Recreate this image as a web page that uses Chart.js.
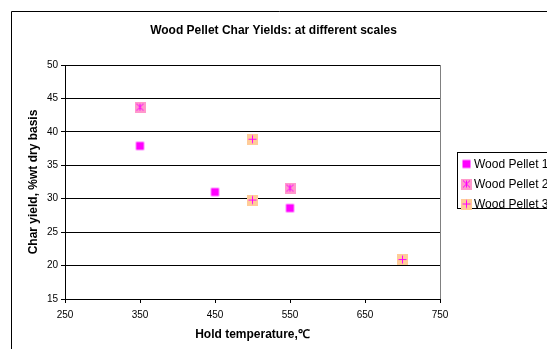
<!DOCTYPE html>
<html>
<head>
<meta charset="utf-8">
<script src="https://cdn.jsdelivr.net/npm/chart.js@4"></script>
<style>
  html, body { margin: 0; padding: 0; background: #fff; overflow: hidden; }
  #wrap { position: absolute; left: 0; top: 0; width: 547px; height: 349px; }
</style>
</head>
<body>
<div id="wrap"><canvas id="pelletChart" width="547" height="349"></canvas></div>
<script>
const chartTitle = 'Wood Pellet Char Yields: at different scales';
const xTitle = 'Hold temperature,\u2103';
const yTitle = 'Char yield, %wt dry basis';

const seriesNames = ['Wood Pellet 1', 'Wood Pellet 2', 'Wood Pellet 3'];

const pellet1Temps = [350, 450, 550];
const pellet1Yields = [37.9, 31.0, 28.6];

const pellet2Temps = [350, 550];
const pellet2Yields = [43.7, 31.6];

const pellet3Temps = [500, 500, 700];
const pellet3Yields = [38.9, 29.8, 20.9];

const xTicks = [250, 350, 450, 550, 650, 750];
const yTicks = [15, 20, 25, 30, 35, 40, 45, 50];

function toPoints(xs, ys) {
    return xs.map((x, i) => ({ x: x, y: ys[i] }));
}

// little bitmap markers like the excel ones
function makeMarker(kind) {
    const c = document.createElement('canvas');
    c.width = 11;
    c.height = 11;
    const g = c.getContext('2d');
    if (kind === 'square') {
        g.fillStyle = '#FF00FF';
        g.fillRect(1.5, 1.5, 8, 8);
        return c;
    }
    g.fillStyle = kind === 'star' ? '#FF99CC' : '#FFCC99';
    g.fillRect(0, 0, 11, 11);
    g.strokeStyle = '#FF00FF';
    g.lineWidth = 1;
    g.beginPath();
    if (kind === 'star') {
        g.moveTo(2, 2); g.lineTo(9, 9);
        g.moveTo(9, 2); g.lineTo(2, 9);
        g.moveTo(5.5, 2); g.lineTo(5.5, 9);
    } else {
        g.moveTo(5.5, 1.5); g.lineTo(5.5, 9.5);
        g.moveTo(1.5, 5.5); g.lineTo(9.5, 5.5);
    }
    g.stroke();
    return c;
}

const markers = [makeMarker('square'), makeMarker('star'), makeMarker('plus')];

const frameAndLegend = {
    id: 'frameAndLegend',
    beforeDraw(chart) {
        const ctx = chart.ctx;
        ctx.save();
        ctx.fillStyle = '#fff';
        ctx.fillRect(0, 0, chart.width, chart.height);
        ctx.strokeStyle = '#000';
        ctx.lineWidth = 1;
        ctx.beginPath();
        ctx.moveTo(11.5, chart.height);
        ctx.lineTo(11.5, 11.5);
        ctx.lineTo(chart.width, 11.5);
        ctx.stroke();
        ctx.restore();
    },
    afterDraw(chart) {
        const ctx = chart.ctx;
        ctx.save();
        ctx.strokeStyle = '#000';
        ctx.lineWidth = 1;
        ctx.strokeRect(457.5, 152.5, 120, 56);
        ctx.font = '12px "Liberation Sans", Arial, sans-serif';
        ctx.fillStyle = '#000';
        ctx.textBaseline = 'middle';
        chart.data.datasets.forEach((ds, i) => {
            const cy = 164 + i * 20;
            ctx.drawImage(ds.pointStyle, 461, cy - 5.5);
            ctx.fillText(ds.label, 474, cy + 0.5);
        });
        ctx.restore();
    }
};

const ctx = document.getElementById('pelletChart').getContext('2d');
new Chart(ctx, {
    type: 'scatter',
    data: {
        datasets: [
            { label: seriesNames[0], data: toPoints(pellet1Temps, pellet1Yields), pointStyle: markers[0] },
            { label: seriesNames[1], data: toPoints(pellet2Temps, pellet2Yields), pointStyle: markers[1] },
            { label: seriesNames[2], data: toPoints(pellet3Temps, pellet3Yields), pointStyle: markers[2] }
        ]
    },
    options: {
        responsive: false,
        animation: false,
        layout: { padding: 0 },
        plugins: {
            legend: { display: false },
            tooltip: { enabled: false },
            title: {
                display: true,
                text: chartTitle,
                color: '#000',
                font: { family: '"Liberation Sans", Arial, sans-serif', size: 12, weight: 'bold' },
                padding: { top: 23, bottom: 27.6 }
            }
        },
        scales: {
            x: {
                type: 'linear',
                min: 250,
                max: 750,
                afterBuildTicks: (scale) => { scale.ticks = xTicks.map(v => ({ value: v })); },
                afterFit: (scale) => { scale.height = 50; scale.paddingRight = 107; },
                ticks: {
                    color: '#000',
                    padding: 6,
                    maxRotation: 0,
                    font: { family: '"Liberation Sans", Arial, sans-serif', size: 10 }
                },
                grid: {
                    drawOnChartArea: true,
                    tickLength: 4,
                    tickColor: '#000',
                    color: (c) => (c.tick && c.tick.value === 750 ? '#808080' : 'rgba(0,0,0,0)')
                },
                border: { color: '#000' },
                title: {
                    display: true,
                    text: xTitle,
                    color: '#000',
                    font: { family: '"Liberation Sans", Arial, sans-serif', size: 12, weight: 'bold' },
                    padding: { top: 0, bottom: 7 }
                }
            },
            y: {
                type: 'linear',
                min: 15,
                max: 50,
                afterBuildTicks: (scale) => { scale.ticks = yTicks.map(v => ({ value: v })); },
                afterFit: (scale) => { scale.width = 65; },
                ticks: {
                    color: '#000',
                    padding: 3,
                    font: { family: '"Liberation Sans", Arial, sans-serif', size: 10 }
                },
                grid: {
                    color: '#000',
                    tickColor: '#000',
                    tickLength: 4
                },
                border: { color: '#000' },
                title: {
                    display: true,
                    text: yTitle,
                    color: '#000',
                    font: { family: '"Liberation Sans", Arial, sans-serif', size: 12, weight: 'bold' },
                    padding: { top: 26, bottom: 0 }
                }
            }
        }
    },
    plugins: [frameAndLegend]
});
</script>
</body>
</html>
